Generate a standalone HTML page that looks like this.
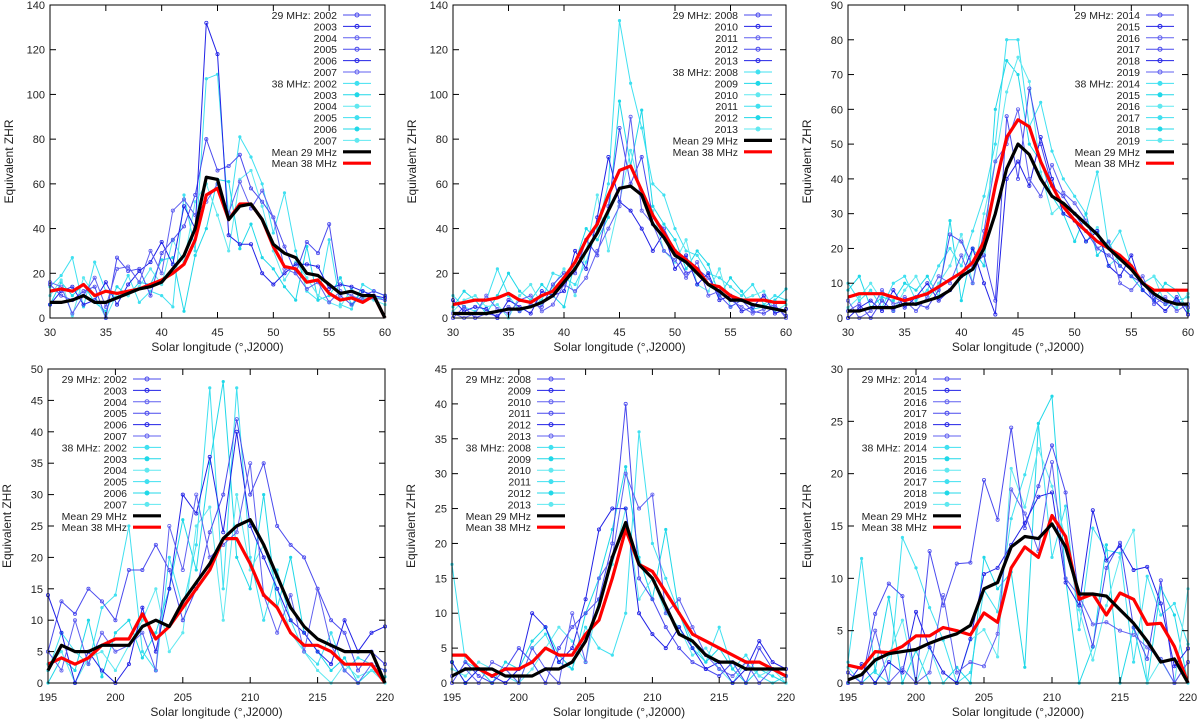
<!DOCTYPE html>
<html><head><meta charset="utf-8"><style>
body{margin:0;background:#fff;}
svg{display:block;font-family:"Liberation Sans",sans-serif;}
</style></head><body>
<svg id="fig" width="1200" height="724" viewBox="0 0 1200 724" xmlns="http://www.w3.org/2000/svg"></svg>
<script>
// ---------- data ----------
const xTop = [30,31,32,33,34,35,36,37,38,39,40,41,42,43,44,45,46,47,48,49,50,51,52,53,54,55,56,57,58,59,60];
const xBot = [195,196,197,198,199,200,201,202,203,204,205,206,207,208,209,210,211,212,213,214,215,216,217,218,219,220];
const p1Mean29=[7,7,8,10,7,7,9,11,13,14,16,22,28,40,63,62,44,50,51,44,33,29,27,20,19,15,11,12,10,10,0];
const p1Mean38=[12,13,12,15,10,12,11,12,13,15,17,20,24,35,55,58,44,51,51,44,32,23,22,16,17,11,8,9,7,10,0];
const p1Blue=[[15,10,8,12,14,0,27,21,22,10,29,35,41,55,80,66,68,73,58,52,45,32,20,34,29,42,10,6,10,12,10],[6,12,14,6,8,16,6,15,21,25,34,24,50,40,132,118,37,33,33,20,15,20,24,24,23,13,15,14,12,10,9],[16,14,2,10,18,5,22,23,16,30,20,48,53,46,52,60,47,61,49,57,45,22,20,13,16,7,12,10,8,9,8]];
const p1Cyan=[[14,19,27,5,25,12,9,19,7,12,10,5,55,30,107,109,45,81,72,60,38,56,30,12,8,35,6,4,15,12,10],[6,16,10,15,7,3,14,10,16,15,26,27,3,28,40,62,61,31,42,27,22,14,8,32,8,10,18,6,12,10,8],[10,17,1,18,10,0,11,10,14,22,15,35,25,52,60,46,30,62,66,50,30,17,25,18,10,7,5,13,9,8,6]];
const p2Mean29=[2,2,2,2,3,4,4,5,7,10,16,22,30,38,48,58,59,55,42,36,28,25,20,15,12,8,8,6,5,4,3];
const p2Mean38=[6,7,8,8,9,11,8,7,10,12,18,25,35,42,55,66,68,57,46,38,30,26,22,15,14,10,8,8,8,7,7];
const p2Blue=[[0,5,0,2,1,5,3,6,5,15,20,20,35,28,50,85,60,72,45,40,30,20,22,18,10,5,8,3,2,5,1],[8,3,5,4,0,8,5,2,12,10,12,30,22,45,72,52,48,40,30,38,22,28,15,20,8,10,3,5,10,2,4],[2,0,2,10,4,2,8,10,3,6,15,12,18,30,40,50,90,48,42,30,26,18,25,10,12,8,5,2,4,6,0]];
const p2Cyan=[[10,5,3,8,22,10,3,5,8,20,18,15,25,40,60,133,105,85,60,55,40,30,28,20,18,14,10,15,6,10,8],[5,12,8,2,10,20,12,8,15,10,5,25,40,35,45,97,68,93,50,42,35,22,30,24,10,18,12,4,5,8,13],[3,8,10,5,6,0,10,15,6,14,22,10,30,55,30,52,75,55,48,30,25,35,15,12,22,5,8,10,12,3,6]];
const p3Mean29=[2,2,3,3,3,4,4,5,6,8,12,14,20,30,43,50,47,40,35,33,30,27,24,20,17,14,10,7,5,4,4];
const p3Mean38=[6,7,7,7,6,5,6,7,9,11,13,16,22,38,52,57,55,45,38,32,28,25,22,20,18,15,10,8,8,8,8];
const p3Blue=[[2,4,0,5,2,6,4,3,8,24,22,15,18,5,58,40,66,50,38,35,30,25,20,18,15,12,10,6,4,5,3],[0,3,5,2,8,3,6,10,5,8,12,20,10,1,40,45,38,52,40,30,28,22,25,15,12,18,8,5,2,6,1],[5,0,2,8,4,5,2,6,12,10,18,10,25,45,50,60,40,35,44,36,33,28,20,22,10,8,12,4,6,2,4]];
const p3Cyan=[[10,5,8,3,10,12,5,8,15,20,15,25,35,50,80,80,55,62,48,40,35,30,42,20,25,15,10,12,8,5,6],[8,12,3,6,5,10,8,12,6,28,5,20,15,60,74,70,50,45,35,30,22,30,18,22,15,12,8,5,10,8,2],[3,6,10,5,2,8,12,5,10,15,24,10,30,45,65,75,68,42,30,33,28,22,26,15,18,14,10,12,4,3,7]];
const p4Mean29=[2,6,5,5,6,6,6,9,10,9,13,16,19,23,25,26,22,17,12,9,7,6,5,5,5,0];
const p4Mean38=[3,4,3,4,6,7,7,11,7,9,12,15,18,23,23,19,14,12,8,6,6,5,3,3,3,0];
const p4Blue=[[5,13,11,15,13,10,18,18,22,18,10,15,24,30,42,30,35,25,22,20,15,10,8,2,5,3],[14,8,0,5,2,0,3,12,5,15,30,27,36,24,40,25,20,15,10,8,5,3,10,5,8,9],[5,2,10,3,8,5,6,8,2,25,18,30,20,22,24,35,14,8,14,5,15,6,2,0,3,2]];
const p4Cyan=[[2,8,5,3,12,14,25,5,2,20,12,22,47,15,47,20,10,18,10,5,3,8,2,4,3,2],[0,4,2,10,1,8,10,4,8,15,26,18,35,48,20,15,30,12,20,8,5,2,4,0,2,1],[3,5,0,4,5,2,6,10,15,5,8,25,28,10,30,18,22,15,8,5,2,0,3,1,2,0]];
const p5Mean29=[1,2,2,2,1,1,1,2,2,3,6,11,18,23,17,15,11,7,6,4,3,3,2,2,2,2];
const p5Mean38=[4,4,2,1,2,2,3,5,4,4,7,9,15,22,17,16,13,10,7,6,5,4,3,3,2,1];
const p5Blue=[[0,3,1,0,2,5,3,0,5,8,10,12,20,40,15,12,8,5,3,2,1,3,0,5,2,1],[3,0,2,1,0,2,10,8,3,5,12,22,25,25,10,7,5,8,5,2,3,0,2,6,3,2],[1,2,0,3,2,0,5,2,0,10,3,15,18,30,25,27,10,12,8,4,2,1,3,0,2,1]];
const p5Cyan=[[17,3,2,1,2,0,5,7,3,2,8,5,4,10,36,20,15,10,6,3,8,2,4,1,0,1],[3,0,2,0,3,2,6,8,4,2,10,15,22,31,18,12,22,10,5,3,5,2,0,2,1,0],[2,1,3,2,1,0,2,5,8,6,3,12,17,25,12,15,10,8,4,5,2,0,3,1,2,0]];
const p6Mean29=[0.3,0.8,2.2,2.8,3,3.2,3.8,4.3,4.7,5.5,9,9.6,13,14,13.8,15.2,13,8.5,8.5,8.3,7,5.7,4,2,2.3,0];
const p6Mean38=[1.7,1.4,3,2.9,3.5,4.5,4.5,5.3,5,4.6,6.7,5.8,11,13,12,16,14,8,8.5,6.5,8.6,8,5.6,5.7,3.5,0];
const p6Blue=[[1,0,6.6,9.5,8.3,0,12.6,7.4,11.4,11.5,19.4,15.6,24.4,14.8,18.8,22.7,18.2,8,3.5,11,13.4,5.3,2.3,9.8,0,2],[0,1.8,0,2,1,6.8,3.4,1,0,4.2,10.4,11,13.2,15.3,17.8,18.2,9.6,7.4,16.5,11.7,13.1,10.8,11.1,7.6,1.6,3.3],[0,0,5,0,1.4,0,1,8.4,1,2,1.6,4.7,18.5,16.2,12.6,21.1,10,8.3,5.6,5.8,5,4.6,3.4,2.3,0,2]];
const p6Cyan=[[2,11.9,1,0,13.9,11,7.2,4.1,0,1,8.9,6.8,15.7,19.9,24.8,12,16.9,5.1,14.8,12.7,12.4,2,10.2,6.5,7.6,3.7],[0,0,1.2,8.2,0,3.1,0,0,1.5,0,12,9,10.6,1.5,24.8,27.4,10,0,3.4,13.2,0,5.3,0,9.1,6.5,0],[1.5,0,0,2.7,6,0,3.4,0,0,4.1,5.1,2.5,20.5,16.8,22.4,18.8,13.8,7,2.2,7.4,12,14.6,0,2.2,0,9]];
const years1=["2002","2003","2004","2005","2006","2007"];
const years2=["2008","2010","2011","2012","2013"];
const years2b=["2008","2009","2010","2011","2012","2013"];
const years3=["2014","2015","2016","2017","2018","2019"];

const panels=[
 {x:xTop,m29:p1Mean29,m38:p1Mean38,b:p1Blue,c:p1Cyan,l:50,r:385,t:5,bt:318,x0:30,x1:60,xs:5,ymax:140,ys:20,leg:"right",y29:years1,y38:years1},
 {x:xTop,m29:p2Mean29,m38:p2Mean38,b:p2Blue,c:p2Cyan,l:453,r:786,t:5,bt:318,x0:30,x1:60,xs:5,ymax:140,ys:20,leg:"right",y29:years2,y38:years2b},
 {x:xTop,m29:p3Mean29,m38:p3Mean38,b:p3Blue,c:p3Cyan,l:848,r:1188,t:5,bt:318,x0:30,x1:60,xs:5,ymax:90,ys:10,leg:"right",y29:years3,y38:years3},
 {x:xBot,m29:p4Mean29,m38:p4Mean38,b:p4Blue,c:p4Cyan,l:48,r:385,t:369,bt:683,x0:195,x1:220,xs:5,ymax:50,ys:5,leg:"left",y29:years1,y38:years1},
 {x:xBot,m29:p5Mean29,m38:p5Mean38,b:p5Blue,c:p5Cyan,l:452,r:786,t:369,bt:683,x0:195,x1:220,xs:5,ymax:45,ys:5,leg:"left",y29:years2b,y38:years2b},
 {x:xBot,m29:p6Mean29,m38:p6Mean38,b:p6Blue,c:p6Cyan,l:848,r:1188,t:369,bt:683,x0:195,x1:220,xs:5,ymax:30,ys:5,leg:"left",y29:years3,y38:years3}
];
const NS="http://www.w3.org/2000/svg";
const svg=document.getElementById('fig');
function mk(tag,attrs,parent){const e=document.createElementNS(NS,tag);for(const k in attrs)e.setAttribute(k,attrs[k]);(parent||svg).appendChild(e);return e;}
const blues=["#4a4aee","#2222e6","#6060f0"];
const cyans=["#40e0f0","#20d8e8","#60e8f0"];
panels.forEach((p,pi)=>{
 const g=mk('g',{});
 
 
 const sx=v=>p.l+(v-p.x0)/(p.x1-p.x0)*(p.r-p.l);
 const sy=v=>p.bt-v/p.ymax*(p.bt-p.t);
 const path=arr=>arr.map((v,i)=>(i?'L':'M')+sx(p.x[i]).toFixed(1)+' '+sy(Math.min(v,p.ymax)).toFixed(1)).join(' ');
 p.c.forEach((s,i)=>{const e=mk('path',{d:path(s),fill:'none',stroke:cyans[i],'stroke-width':1},g);
  
  
  s.forEach((v,j)=>{const c=mk('circle',{cx:sx(p.x[j]),cy:sy(v),r:1.6,fill:cyans[i]},g);
   
   });});
 p.b.forEach((s,i)=>{const e=mk('path',{d:path(s),fill:'none',stroke:blues[i],'stroke-width':1},g);
  
  
  s.forEach((v,j)=>{const c=mk('circle',{cx:sx(p.x[j]),cy:sy(v),r:1.6,fill:'none',stroke:blues[i],'stroke-width':0.8},g);
   
   });});
 const m38=mk('path',{d:path(p.m38),fill:'none',stroke:'#ff0000','stroke-width':3.2,'stroke-linejoin':'round'},g);
 
 
 const m29=mk('path',{d:path(p.m29),fill:'none',stroke:'#000','stroke-width':3.2,'stroke-linejoin':'round'},g);
 
 
 const fr=mk('rect',{x:p.l,y:p.t,width:p.r-p.l,height:p.bt-p.t,fill:'none',stroke:'#000','stroke-width':1},g);
 
 
 for(let v=p.x0;v<=p.x1;v+=p.xs){const X=sx(v);
  mk('line',{x1:X,y1:p.bt,x2:X,y2:p.bt-6,stroke:'#000'},g);mk('line',{x1:X,y1:p.t,x2:X,y2:p.t+6,stroke:'#000'},g);
  const t=mk('text',{x:X,y:p.bt+18,'font-size':11,'text-anchor':'middle',fill:'#222'},g);t.textContent=v;
  
  }
 for(let v=0;v<=p.ymax;v+=p.ys){const Y=sy(v);
  mk('line',{x1:p.l,y1:Y,x2:p.l+6,y2:Y,stroke:'#000'},g);mk('line',{x1:p.r,y1:Y,x2:p.r-6,y2:Y,stroke:'#000'},g);
  const t=mk('text',{x:p.l-5,y:Y+4,'font-size':11,'text-anchor':'end',fill:'#222'},g);t.textContent=v;
  
  }
 const xt=mk('text',{x:(p.l+p.r)/2,y:p.bt+33,'font-size':12,'text-anchor':'middle',fill:'#222'},g);xt.textContent='Solar longitude (°,J2000)';
 
 
 const yx=p.l-37,yc=(p.t+p.bt)/2;
 const yt=mk('text',{x:yx,y:yc,'font-size':12,'text-anchor':'middle',fill:'#222',transform:`rotate(-90 ${yx} ${yc})`},g);yt.textContent='Equivalent ZHR';
 
 
 const entries=[];
 p.y29.forEach((y,i)=>entries.push([(i?'':'29 MHz: ')+y,blues[i%3],1,'o']));
 p.y38.forEach((y,i)=>entries.push([(i?'':'38 MHz: ')+y,cyans[i%3],1,'c']));
 entries.push(['Mean 29 MHz','#000',3.2,'']);entries.push(['Mean 38 MHz','#ff0000',3.2,'']);
 const tx=p.leg==='right'?p.r-48:p.l+79, lx0=tx+6, lx1=tx+34;
 entries.forEach((e,i)=>{const Y=p.t+10+i*11.4;
  const t=mk('text',{x:tx,y:Y+4,'font-size':10.5,'text-anchor':'end',fill:'#222'},g);t.textContent=e[0];
  
  
  const ln=mk('line',{x1:lx0,y1:Y,x2:lx1,y2:Y,stroke:e[1],'stroke-width':e[2]},g);
  
  
  if(e[3])mk('circle',{cx:(lx0+lx1)/2,cy:Y,r:2,fill:e[3]==='c'?e[1]:'none',stroke:e[1]},g);
 });
});
</script>
</body></html>
